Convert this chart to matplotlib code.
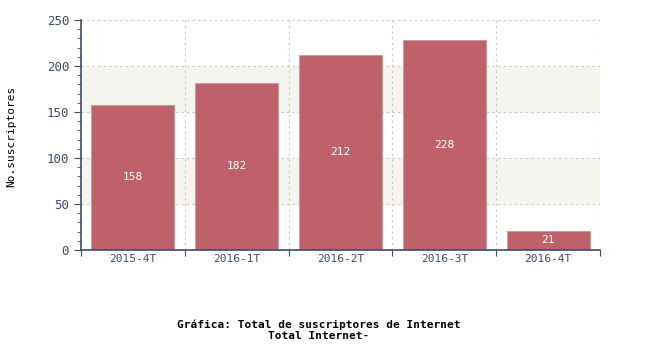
import matplotlib
matplotlib.use('Agg')
import matplotlib.pyplot as plt
import numpy as np

periodos = ['2015-4T', '2016-1T', '2016-2T', '2016-3T', '2016-4T']
suscriptores = [158, 182, 212, 228, 21]
yticks = [0, 50, 100, 150, 200, 250]

eje = '#3d4a6b'
barra = '#bf616b'

fig = plt.figure(figsize=(6.5, 3.5), dpi=100)
ax = fig.add_axes([0.1246, 0.2857, 0.7985, 0.6572])

x = np.arange(len(periodos))
ax.set_xlim(-0.5, len(periodos) - 0.5)
ax.set_ylim(0, 250)

# bandas de fondo
for y0 in (50, 150):
    ax.axhspan(y0, y0 + 50, color='#f5f5f0', zorder=0)

# rejilla punteada
for y in yticks[1:]:
    ax.axhline(y, color='#c8c8c8', ls=(0, (2, 3)), lw=0.8, zorder=1)
for xb in np.arange(0.5, len(periodos), 1.0):
    ax.axvline(xb, color='#c8c8c8', ls=(0, (2, 3)), lw=0.8, zorder=1)

barras = ax.bar(x, suscriptores, width=0.8, color=barra, edgecolor='#c99ba0',
                linewidth=0.8, zorder=2)
for xi, v in zip(x, suscriptores):
    ax.text(xi, v / 2, str(v), ha='center', va='center', color='white',
            fontsize=8, family='DejaVu Sans Mono', zorder=3)

ax.set_yticks(yticks)
ax.set_yticks(np.arange(0, 251, 10), minor=True)
ax.set_xticks(np.arange(-0.5, len(periodos), 1.0))
ax.set_xticklabels([])
ax.set_xticks(x, minor=True)
ax.set_xticklabels(periodos, minor=True)
ax.tick_params(axis='x', which='minor', length=0, pad=3, labelsize=8, colors=eje)
ax.tick_params(axis='x', which='major', length=4, direction='out', color=eje)
ax.tick_params(axis='y', which='major', length=5, direction='out', color=eje,
               labelcolor=eje, labelsize=9)
ax.tick_params(axis='y', which='minor', length=3, direction='out', color=eje)

for lab in ax.get_xticklabels(minor=True) + ax.get_yticklabels():
    lab.set_family('DejaVu Sans Mono')

for s in ('top', 'right'):
    ax.spines[s].set_visible(False)
for s in ('left', 'bottom'):
    ax.spines[s].set_color(eje)
    ax.spines[s].set_linewidth(1.2)

fig.text(0.017, 0.61, 'No.suscriptores', rotation=90, ha='center', va='center',
         fontsize=8, family='DejaVu Sans Mono')
fig.text(0.49, 0.057, 'Gráfica: Total de suscriptores de Internet\nTotal Internet-',
         ha='center', va='center', fontsize=8, fontweight='bold',
         family='DejaVu Sans Mono', linespacing=1.1)

fig.savefig('out.png', dpi=100)
